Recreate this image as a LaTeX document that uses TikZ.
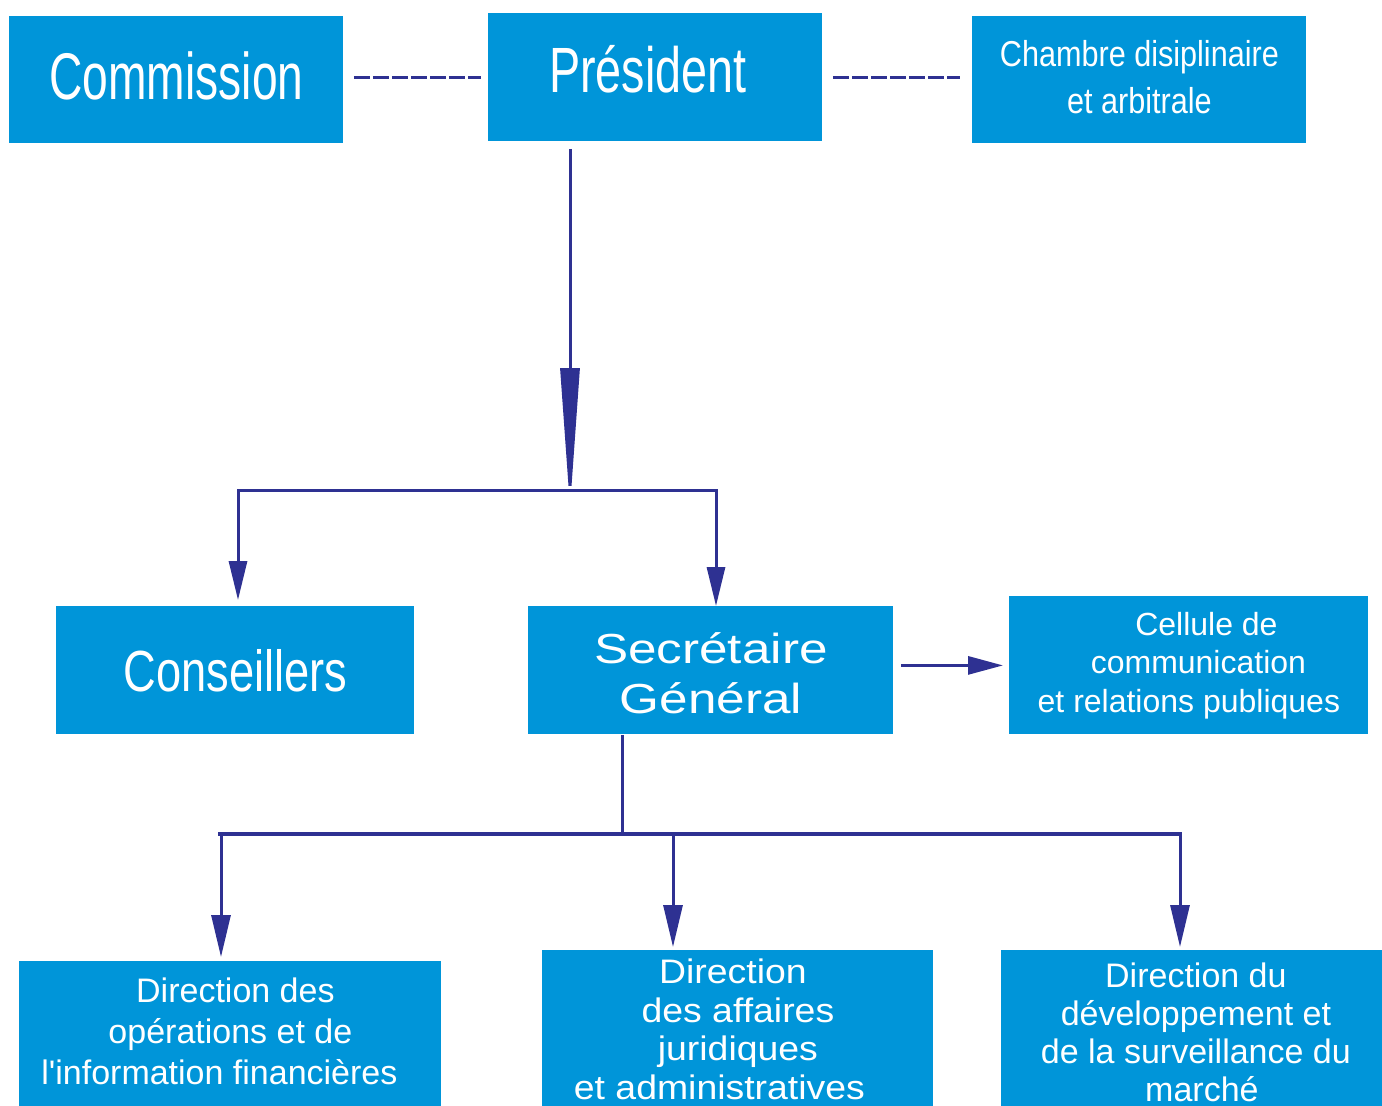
\documentclass[tikz,border=0pt]{standalone}
\usepackage{fontspec}
\setmainfont{Liberation Sans}
\newfontfamily\fbase{Liberation Sans}
\newfontfamily\fcomm[FakeStretch=0.70]{Liberation Sans}
\newfontfamily\fpres[FakeStretch=0.73]{Liberation Sans}
\newfontfamily\fcons[FakeStretch=0.78]{Liberation Sans}
\newfontfamily\fcham[FakeStretch=0.85]{Liberation Sans}
\newfontfamily\fsg[FakeStretch=1.22]{Liberation Sans}
\newfontfamily\fdtwo[FakeStretch=1.1]{Liberation Sans}
\usetikzlibrary{arrows.meta}
\definecolor{boxblue}{HTML}{0095D9}
\definecolor{lineblue}{HTML}{2E3192}
\begin{document}
\begin{tikzpicture}[x=0.5pt,y=-0.5pt,
  box/.style={fill=boxblue, draw=none, inner sep=0pt, text=white, align=center, anchor=north west},
  conn/.style={draw=lineblue, line width=1.5pt},
  dashconn/.style={draw=lineblue, line width=1.25pt, dash pattern=on 8pt off 1.5pt},
  bighead/.style={-{Triangle[length=70pt,width=9.5pt]}},
  midhead/.tip={Triangle[length=19.5pt,width=9pt]},
  lowhead/.tip={Triangle[length=21pt,width=9.5pt]},
]
\useasboundingbox (0,0) rectangle (1382,1105);
\clip (0,0) rectangle (1382,1105);

% top row
\node[box, minimum width=167pt, minimum height=63.5pt, text depth=4.5pt,
  font=\fcomm\fontsize{33}{40}\selectfont] (comm) at (9,16) {Commission};
\node[box, minimum width=167pt, minimum height=64pt, text depth=8pt,
  font=\fpres\fontsize{32}{38}\selectfont] (pres) at (488,13) {Président\hspace*{7.5pt}};
\node[box, minimum width=167pt, minimum height=63.5pt,
  font=\fcham\fontsize{18}{23.5}\selectfont] (cham) at (972,16)
  {Chambre disiplinaire\\et arbitrale\rule[-3pt]{0pt}{1pt}};

% middle row
\node[box, minimum width=179pt, minimum height=64pt,
  font=\fcons\fontsize{29}{35}\selectfont] (cons) at (56,606) {Conseillers};
\node[box, minimum width=182.5pt, minimum height=64pt,
  font=\fsg\fontsize{21}{25}\selectfont] (sg) at (528,606) {\rule{0pt}{18pt}Secrétaire\\Général};
\node[box, minimum width=179.5pt, minimum height=69pt,
  font=\fbase\fontsize{16}{19.25}\selectfont] (cell) at (1009,596)
  {\hspace*{17.5pt}Cellule de\\\hspace*{9.5pt}communication\\et relations publiques};

% bottom row
\node[box, minimum width=211pt, minimum height=73pt,
  font=\fbase\fontsize{17}{20.5}\selectfont] (d1) at (19,961)
  {\hspace*{5pt}Direction des\\opérations et de\\l'information financières\hspace*{11pt}\rule[-3pt]{0pt}{1pt}};
\node[box, minimum width=195.5pt, minimum height=79pt,
  font=\fdtwo\fontsize{17}{19.25}\selectfont] (d2) at (542,950)
  {Direction\hspace*{5pt}\\des affaires\hspace*{2pt}\\juridiques\\et administratives\hspace*{18.5pt}};
\node[box, minimum width=190.5pt, minimum height=85pt,
  font=\fbase\fontsize{17}{19}\selectfont] (d3) at (1001,950)
  {\hspace*{4pt}Direction du\\\hspace*{4pt}développement et\\\hspace*{4pt}de la surveillance du\\\hspace*{10pt}marché\rule[-3pt]{0pt}{1pt}};

% dashed links
\draw[dashconn, shorten <=5pt, shorten >=3.5pt] (comm.east |- pres.west) -- (pres.west);
\draw[dashconn, shorten <=5pt, shorten >=6pt] (pres.east) -- (pres.east -| cham.west);

% President to second level
\coordinate (jA) at (570,490);
\coordinate (jL) at (238,490);
\coordinate (jR) at (716,490);
\draw[conn, bighead, shorten <=3.5pt, shorten >=-9pt] (pres.south -| jA) -- (jA);
\draw[conn, midhead-midhead, shorten <=3pt] (cons.north -| jL) -- (jL) -- (jR) -- (sg.north -| jR);

% SG to Cellule
\draw[conn, -{Triangle[length=17.5pt,width=9pt]}, shorten <=3.5pt, shorten >=3pt]
  (sg.east |- cell.west) -- (cell.west);

% SG to directions
\coordinate (jB) at (622,834);
\coordinate (jB1) at (218,834);
\coordinate (jB2) at (1182,834);
\coordinate (bA) at (221,834);
\coordinate (bB) at (673,834);
\coordinate (bC) at (1180,834);
\draw[conn] (sg.south -| jB) -- (jB);
\draw[draw=lineblue, line width=2pt] (jB1) -- (jB2);
\draw[conn, -lowhead, shorten >=2pt] (bA) -- (d1.north -| bA);
\draw[conn, -lowhead, shorten >=1.5pt] (bB) -- (d2.north -| bB);
\draw[conn, -lowhead, shorten >=1.5pt] (bC) -- (d3.north -| bC);
\end{tikzpicture}
\end{document}
